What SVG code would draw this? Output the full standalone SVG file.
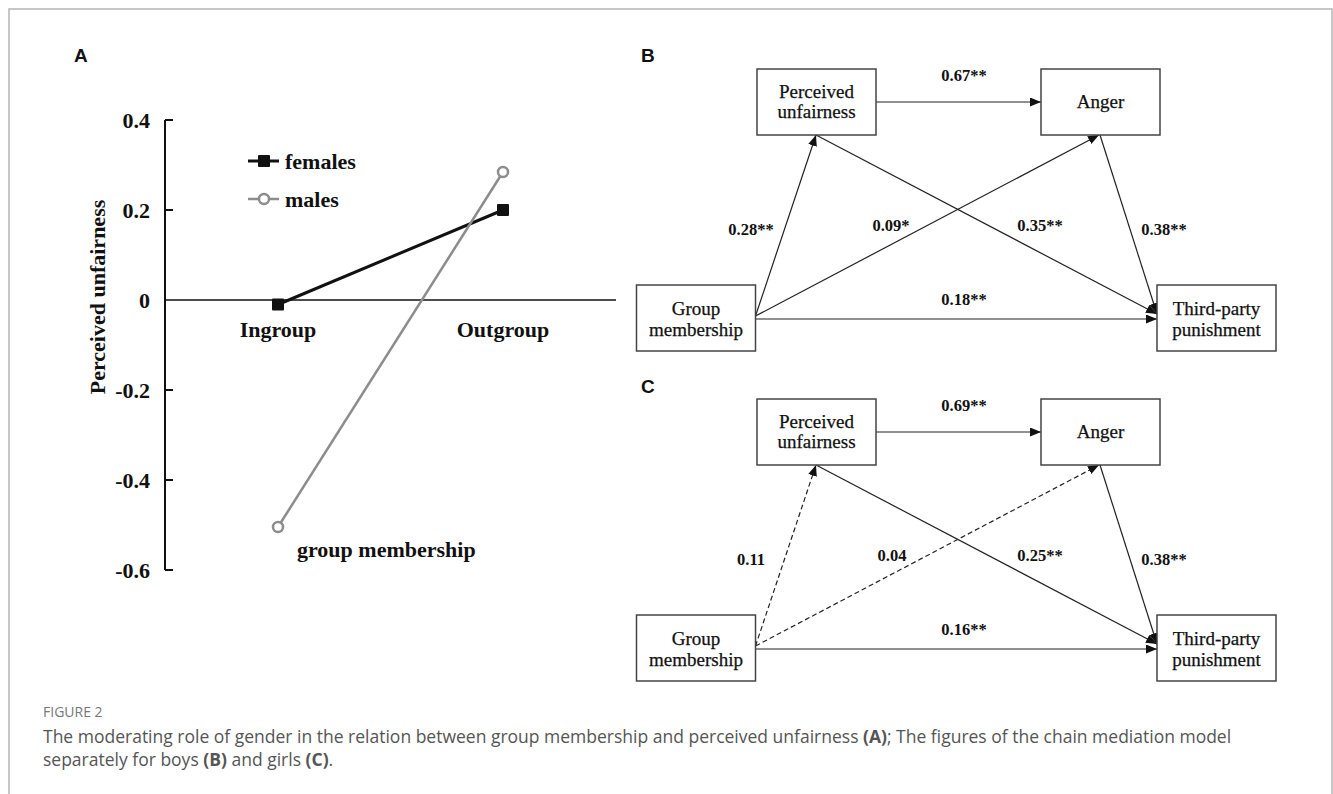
<svg xmlns="http://www.w3.org/2000/svg" width="1333" height="794" viewBox="0 0 1333 794">
<defs>
<style>
.frame{fill:none;stroke:#b5b5b5;stroke-width:1.5}
.panel{font-family:"Liberation Sans",Arial,sans-serif;font-weight:bold;font-size:19px;fill:#111}
.ax{stroke:#111;stroke-width:2;fill:none}
.tl{font-family:"Liberation Serif","Times New Roman",serif;font-weight:bold;font-size:22px;fill:#111}
.box{fill:#fff;stroke:#444;stroke-width:1.5}
.nt{font-family:"Liberation Serif","Times New Roman",serif;font-size:19px;fill:#111;text-anchor:middle;stroke:#111;stroke-width:0.25}
.el{font-family:"Liberation Serif","Times New Roman",serif;font-weight:bold;font-size:16.5px;fill:#111;text-anchor:middle}
.cn{stroke:#222;stroke-width:1.2;fill:none}
.dash{stroke-dasharray:5,3}
.cap{font-family:"Open Sans","Noto Sans",sans-serif;fill:#555}
</style>
<marker id="ah" markerUnits="userSpaceOnUse" markerWidth="12" markerHeight="10" refX="11" refY="4.5" orient="auto">
<path d="M0,0 L11,4.5 L0,9 z" fill="#111"/>
</marker>
</defs>
<rect width="1333" height="794" fill="#fff"/>
<path class="frame" d="M9,794 V9 H1332 V794"/>

<!-- Panel A -->
<g id="panelA">
<text class="panel" x="74" y="62">A</text>
<path class="ax" d="M165,120 V570 M165,120 H173 M165,210 H173 M165,390 H173 M165,480 H173 M165,570 H173"/>
<line x1="165" y1="300" x2="616" y2="300" stroke="#111" stroke-width="1.6"/>
<g class="tl" text-anchor="end">
<text x="150" y="128">0.4</text>
<text x="150" y="218">0.2</text>
<text x="150" y="308">0</text>
<text x="150" y="398">-0.2</text>
<text x="150" y="488">-0.4</text>
<text x="150" y="578">-0.6</text>
</g>
<text class="tl" text-anchor="middle" transform="translate(105,297) rotate(-90)">Perceived unfairness</text>
<text class="tl" x="278" y="337" text-anchor="middle">Ingroup</text>
<text class="tl" x="503" y="337" text-anchor="middle">Outgroup</text>
<text class="tl" x="297" y="557">group membership</text>
<g id="series-females">
<line x1="278" y1="304.5" x2="503" y2="210" stroke="#111" stroke-width="3"/>
<rect x="272" y="298.5" width="12" height="12" fill="#111" rx="1"/>
<rect x="497" y="204" width="12" height="12" fill="#111" rx="1"/>
</g>
<g id="series-males">
<line x1="278" y1="527" x2="503" y2="172" stroke="#8c8c8c" stroke-width="2.5"/>
<circle cx="278" cy="527" r="5" fill="#fff" stroke="#8c8c8c" stroke-width="2.5"/>
<circle cx="503" cy="172" r="5" fill="#fff" stroke="#8c8c8c" stroke-width="2.5"/>
</g>
<g id="legend">
<line x1="248" y1="161" x2="279" y2="161" stroke="#111" stroke-width="3"/>
<rect x="258" y="155" width="12" height="12" fill="#111" rx="1"/>
<text class="tl" x="285" y="169">females</text>
<line x1="248" y1="199" x2="279" y2="199" stroke="#8c8c8c" stroke-width="2.5"/>
<circle cx="264" cy="199" r="5" fill="#fff" stroke="#8c8c8c" stroke-width="2.5"/>
<text class="tl" x="285" y="207">males</text>
</g>
</g>

<!-- Panel B -->
<text class="panel" x="641" y="62">B</text>
<g id="B-connectors">
<line class="cn" x1="876" y1="102" x2="1041" y2="102" marker-end="url(#ah)"/>
<line class="cn" x1="755.5" y1="316" x2="816" y2="135" marker-end="url(#ah)"/>
<line class="cn" x1="755.5" y1="316" x2="1099" y2="135" marker-end="url(#ah)"/>
<line class="cn" x1="816" y1="135" x2="1157" y2="314" marker-end="url(#ah)"/>
<line class="cn" x1="1100" y1="135" x2="1157" y2="314" marker-end="url(#ah)"/>
<line class="cn" x1="755.5" y1="319" x2="1157" y2="319" marker-end="url(#ah)"/>
</g>
<g id="B-labels">
<text class="el" x="964" y="81">0.67**</text>
<text class="el" x="751" y="235">0.28**</text>
<text class="el" x="891" y="231">0.09*</text>
<text class="el" x="1040" y="231">0.35**</text>
<text class="el" x="1164" y="235">0.38**</text>
<text class="el" x="964" y="305">0.18**</text>
</g>
<g id="B-perceived-unfairness"><rect class="box" x="757" y="69" width="119" height="66"/><text class="nt" x="816.5" y="98">Perceived</text><text class="nt" x="816.5" y="118">unfairness</text></g>
<g id="B-anger"><rect class="box" x="1041" y="69" width="119" height="66"/><text class="nt" x="1100.5" y="108">Anger</text></g>
<g id="B-group-membership"><rect class="box" x="636.5" y="285" width="119" height="66"/><text class="nt" x="696" y="315">Group</text><text class="nt" x="696" y="336">membership</text></g>
<g id="B-third-party"><rect class="box" x="1157" y="285" width="119" height="66"/><text class="nt" x="1216.5" y="315">Third-party</text><text class="nt" x="1216.5" y="336">punishment</text></g>

<!-- Panel C -->
<text class="panel" x="641" y="393">C</text>
<g id="C-connectors">
<line class="cn" x1="876" y1="432" x2="1041" y2="432" marker-end="url(#ah)"/>
<line class="cn dash" x1="755.5" y1="646" x2="816" y2="465" marker-end="url(#ah)"/>
<line class="cn dash" x1="755.5" y1="646" x2="1099" y2="465" marker-end="url(#ah)"/>
<line class="cn" x1="816" y1="465" x2="1157" y2="644" marker-end="url(#ah)"/>
<line class="cn" x1="1100" y1="465" x2="1157" y2="644" marker-end="url(#ah)"/>
<line class="cn" x1="755.5" y1="649" x2="1157" y2="649" marker-end="url(#ah)"/>
</g>
<g id="C-labels">
<text class="el" x="964" y="411">0.69**</text>
<text class="el" x="751" y="565">0.11</text>
<text class="el" x="892" y="561">0.04</text>
<text class="el" x="1040" y="561">0.25**</text>
<text class="el" x="1164" y="565">0.38**</text>
<text class="el" x="964" y="635">0.16**</text>
</g>
<g id="C-perceived-unfairness"><rect class="box" x="757" y="399" width="119" height="66"/><text class="nt" x="816.5" y="428">Perceived</text><text class="nt" x="816.5" y="448">unfairness</text></g>
<g id="C-anger"><rect class="box" x="1041" y="399" width="119" height="66"/><text class="nt" x="1100.5" y="438">Anger</text></g>
<g id="C-group-membership"><rect class="box" x="636.5" y="615" width="119" height="66"/><text class="nt" x="696" y="645">Group</text><text class="nt" x="696" y="666">membership</text></g>
<g id="C-third-party"><rect class="box" x="1157" y="615" width="119" height="66"/><text class="nt" x="1216.5" y="645">Third-party</text><text class="nt" x="1216.5" y="666">punishment</text></g>

<!-- Caption -->
<g id="caption">
<text class="cap" x="43" y="717" font-size="14" style="fill:#777">FIGURE 2</text>
<text class="cap" x="43" y="743" font-size="17.5">The moderating role of gender in the relation between group membership and perceived unfairness <tspan font-weight="bold">(A)</tspan>; The figures of the chain mediation model</text>
<text class="cap" x="43" y="766" font-size="17.5">separately for boys <tspan font-weight="bold">(B)</tspan> and girls <tspan font-weight="bold">(C)</tspan>.</text>
</g>
</svg>
